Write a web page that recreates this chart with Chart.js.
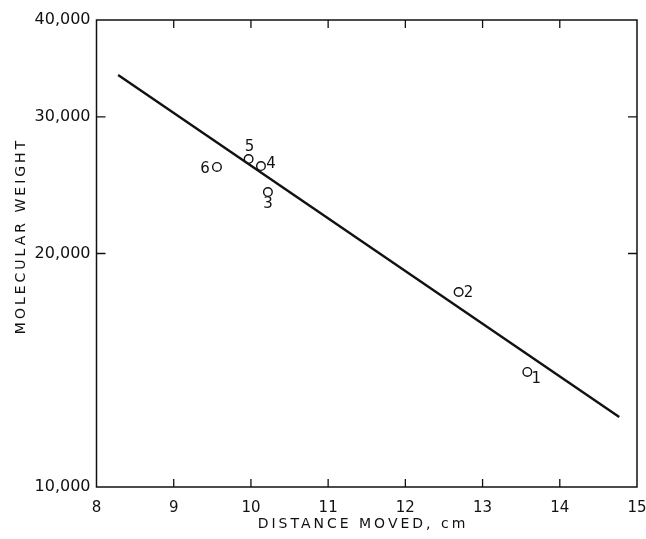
<!DOCTYPE html>
<html>
<head>
<meta charset="utf-8">
<script src="https://cdn.jsdelivr.net/npm/chart.js@4/dist/chart.umd.min.js"></script>
<style>
  html, body { margin: 0; padding: 0; background: #fff; }
  #wrap { width: 646px; height: 539px; }
</style>
</head>
<body>
<div id="wrap"><canvas id="chart" width="646" height="539"></canvas></div>
<script>
'use strict';

// ─── Data ────────────────────────────────────────────────────────────────────

const X_TICKS = [8, 9, 10, 11, 12, 13, 14, 15];
const Y_TICKS = [10000, 20000, 30000, 40000];

const POINT_LABELS = ['1', '2', '3', '4', '5', '6'];
const POINT_X      = [13.58, 12.69, 10.22, 10.13, 9.97, 9.56];
const POINT_Y      = [14070, 17840, 24000, 25930, 26470, 25860];

const FIT_X = [8.28, 14.77];
const FIT_Y = [33980, 12310];

// label placement around each point (pixels), same order as POINT_LABELS
const LABEL_OFFSETS = [[9, 7], [10, 1], [0, 12], [10, -2], [1, -12], [-12, 2]];

const INK  = '#111';
const FONT = "'DejaVu Sans', sans-serif";

// ─── Plugins ─────────────────────────────────────────────────────────────────

const frame = {
  id: 'frame',
  afterDatasetsDraw(chart) {
    const { ctx, chartArea: a, scales: { x, y } } = chart;
    ctx.save();
    ctx.strokeStyle = INK;
    ctx.lineWidth = 1.5;
    ctx.strokeRect(a.left, a.top, a.right - a.left, a.bottom - a.top);

    // inward ticks
    ctx.lineWidth = 1.3;
    ctx.beginPath();
    X_TICKS.slice(1, -1).forEach(v => {
      const px = x.getPixelForValue(v);
      ctx.moveTo(px, a.bottom); ctx.lineTo(px, a.bottom - 8);
      ctx.moveTo(px, a.top);    ctx.lineTo(px, a.top + 8);
    });
    Y_TICKS.slice(1, -1).forEach(v => {
      const py = y.getPixelForValue(v);
      ctx.moveTo(a.left, py);  ctx.lineTo(a.left + 9, py);
      ctx.moveTo(a.right, py); ctx.lineTo(a.right - 9, py);
    });
    ctx.stroke();

    // point numbers
    ctx.fillStyle = INK;
    ctx.font = `15px ${FONT}`;
    ctx.textAlign = 'center';
    ctx.textBaseline = 'middle';
    POINT_LABELS.forEach((t, i) => {
      const px = x.getPixelForValue(POINT_X[i]);
      const py = y.getPixelForValue(POINT_Y[i]);
      ctx.fillText(t, px + LABEL_OFFSETS[i][0], py + LABEL_OFFSETS[i][1]);
    });

    // axis titles
    ctx.font = `14px ${FONT}`;
    ctx.letterSpacing = '3px';
    ctx.fillText('DISTANCE MOVED, cm', 363, 524);
    ctx.translate(21, 236);
    ctx.rotate(-Math.PI / 2);
    ctx.fillText('MOLECULAR WEIGHT', 0, 0);
    ctx.restore();
  },
};

// ─── Chart ───────────────────────────────────────────────────────────────────

new Chart(document.getElementById('chart'), {
  type: 'scatter',
  data: {
    datasets: [
      {
        type: 'line',
        data: FIT_X.map((x, i) => ({ x, y: FIT_Y[i] })),
        borderColor: INK,
        borderWidth: 2.4,
        pointRadius: 0,
        fill: false,
      },
      {
        data: POINT_X.map((x, i) => ({ x, y: POINT_Y[i] })),
        pointRadius: 4.3,
        pointBorderWidth: 1.4,
        pointBorderColor: INK,
        pointBackgroundColor: '#fff',
      },
    ],
  },
  options: {
    animation: false,
    responsive: false,
    events: [],
    layout: { padding: { top: 20, right: 9, left: 0, bottom: 0 } },
    plugins: { legend: { display: false }, tooltip: { enabled: false } },
    scales: {
      x: {
        type: 'linear',
        min: 8,
        max: 15,
        afterBuildTicks: s => { s.ticks = X_TICKS.map(value => ({ value })); },
        afterFit: s => { s.height = 52; s.paddingLeft = 0; s.paddingRight = 0; },
        grid: { display: false, drawTicks: false },
        border: { display: false },
        ticks: { color: INK, padding: 12, font: { family: FONT, size: 15 } },
      },
      y: {
        type: 'logarithmic',
        min: 10000,
        max: 40000,
        afterBuildTicks: s => { s.ticks = Y_TICKS.map(value => ({ value })); },
        afterFit: s => { s.width = 96.5; s.paddingTop = 0; s.paddingBottom = 0; },
        grid: { display: false, drawTicks: false },
        border: { display: false },
        ticks: {
          color: INK,
          padding: 6,
          font: { family: FONT, size: 16 },
          callback: v => Number(v).toLocaleString('en-US'),
        },
      },
    },
  },
  plugins: [frame],
});
</script>
</body>
</html>
